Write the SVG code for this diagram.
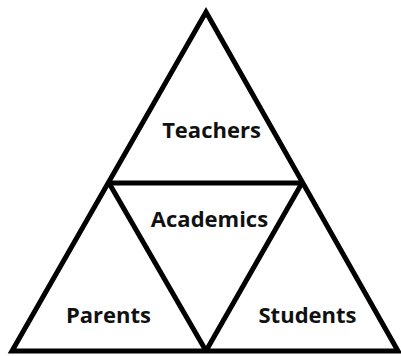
<svg xmlns="http://www.w3.org/2000/svg" width="401" height="356" viewBox="0 0 401 356">
<style>
.tri{fill:none;stroke:#000;stroke-width:5;stroke-linejoin:miter}
.lbl{font-family:"Open Sans","Noto Sans","Liberation Sans",sans-serif;font-weight:bold;font-size:22px;fill:#111;text-anchor:middle}
</style>
<rect width="401" height="356" fill="#fff"/>
<g id="connectors">
<polygon class="tri" points="206,12 398,351 12,351"/>
<line class="tri" x1="107" y1="183" x2="304" y2="183"/>
<line class="tri" x1="109" y1="183" x2="205.5" y2="350"/>
<line class="tri" x1="302" y1="183" x2="206.5" y2="350"/>
</g>
<g id="teachers"><text class="lbl" x="211.5" y="138">Teachers</text></g>
<g id="academics"><text class="lbl" x="209.5" y="227">Academics</text></g>
<g id="parents"><text class="lbl" x="108.5" y="323">Parents</text></g>
<g id="students"><text class="lbl" x="307.5" y="323">Students</text></g>
</svg>
